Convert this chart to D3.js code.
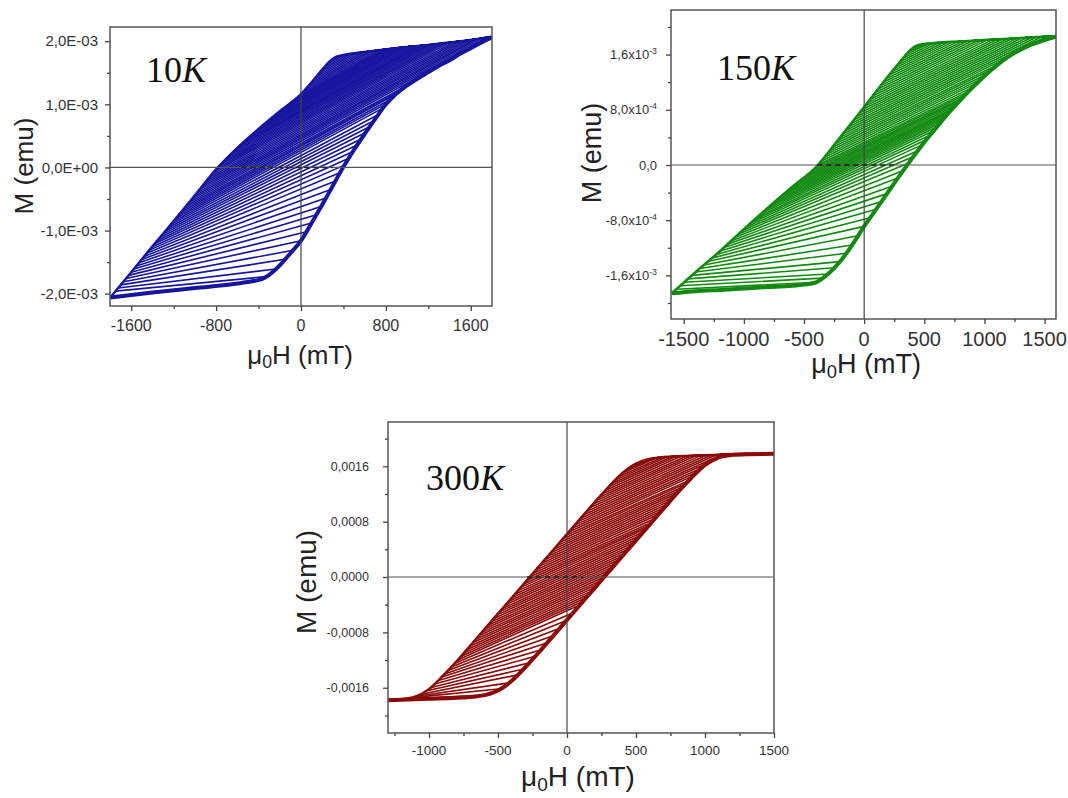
<!DOCTYPE html>
<html><head><meta charset="utf-8">
<script src="https://cdn.jsdelivr.net/npm/d3@7"></script>
<style>body{margin:0;background:#fff}svg{display:block}</style>
</head><body>
<svg id="chart" width="1068" height="798"></svg>
<script>
// ===== DATA (M values in units of 1e-3 emu, H in mT) =====
// 10 K : major branches
const asc10 = [[-1797,-2.06],[-1400,-1.98],[-1000,-1.91],[-600,-1.84],[-450,-1.80],[-370,-1.77],[-300,-1.70],[-200,-1.55],[-100,-1.36],[0,-1.16],[100,-0.88],[200,-0.59],[300,-0.29],[400,0.01],[500,0.28],[600,0.53],[700,0.77],[800,1.00],[900,1.17],[1000,1.30],[1100,1.41],[1200,1.51],[1300,1.61],[1400,1.70],[1500,1.80],[1600,1.89],[1700,1.98],[1797,2.06]];
const desc10 = [[-1797,-2.06],[-1600,-1.66],[-1400,-1.25],[-1200,-0.85],[-1000,-0.44],[-800,-0.03],[-600,0.31],[-400,0.61],[-200,0.89],[0,1.16],[100,1.35],[200,1.55],[270,1.68],[330,1.75],[400,1.78],[600,1.83],[800,1.87],[1000,1.91],[1200,1.94],[1400,1.98],[1600,2.02],[1797,2.07]];
// reversal curves [H start, M start, H join, M join]; "Top" ones merge into the upper branch, "Right" ones into the ascending branch
const forcTop10 = [
[285,1.69,363,1.764],[248,1.64,400,1.78],[222,1.59,439,1.79],[195,1.54,478,1.80],[170,1.49,517,1.809],
[145,1.44,557,1.819],[120,1.39,597,1.829],[95,1.34,635,1.837],[69,1.29,671,1.844],[42,1.24,707,1.851],
[14,1.19,740,1.858],[-15,1.14,772,1.864],[-52,1.09,794,1.869],[-89,1.04,817,1.873],[-126,0.99,839,1.878],
[-163,0.94,861,1.882],[-200,0.89,883,1.887],[-236,0.84,907,1.891],[-272,0.79,930,1.896],[-307,0.74,956,1.901],
[-343,0.69,978,1.906],[-379,0.64,1001,1.91],[-413,0.59,1026,1.914],[-447,0.54,1051,1.918],[-480,0.49,1075,1.921],
[-513,0.44,1102,1.925],[-547,0.39,1126,1.929],[-580,0.34,1151,1.933],[-611,0.29,1180,1.937],[-641,0.24,1208,1.941],
[-671,0.19,1240,1.948],[-700,0.14,1272,1.954],[-730,0.09,1302,1.96],[-759,0.04,1336,1.967],[-787,-0.01,1369,1.974],
[-815,-0.06,1403,1.981],[-839,-0.11,1441,1.988],[-863,-0.16,1480,1.996],[-888,-0.21,1518,2.004],[-912,-0.26,1557,2.011],
[-937,-0.31,1594,2.019],[-961,-0.36,1633,2.028],[-986,-0.41,1670,2.038],[-1010,-0.46,1710,2.048],[-1035,-0.51,1750,2.058],
[-1059,-0.56,1790,2.065]];
const forcRight10 = [
[-1083,-0.61,991,1.29],[-1107,-0.66,942,1.225],[-1132,-0.71,896,1.163],[-1156,-0.76,850,1.085],[-1181,-0.81,810,1.015],
[-1205,-0.86,770,0.94],[-1230,-0.91,730,0.84],[-1255,-0.96,690,0.745],[-1280,-1.01,650,0.65],[-1305,-1.06,610,0.555],
[-1330,-1.11,570,0.455],[-1355,-1.16,530,0.355],[-1380,-1.21,490,0.253],[-1405,-1.26,450,0.145],[-1430,-1.31,410,0.037],
[-1454,-1.36,370,-0.08],[-1478,-1.41,325,-0.215],[-1502,-1.46,280,-0.35],[-1527,-1.51,235,-0.485],[-1551,-1.56,190,-0.62],
[-1576,-1.61,145,-0.75],[-1600,-1.66,100,-0.88],[-1625,-1.71,50,-1.02],[-1649,-1.76,0,-1.16],[-1674,-1.81,-75,-1.313],
[-1698,-1.86,-150,-1.455],[-1723,-1.91,-240,-1.61],[-1748,-1.96,-330,-1.73]];
const dash10 = [-560,300];
const xTicks10 = [-1600,-800,0,800,1600];
const xMinor10 = [-1200,-400,400,1200];
const yTicks10 = [-2,-1,0,1,2];
const yMinor10 = [-1.5,-0.5,0.5,1.5];
const yLabels10 = ["-2,0E-03","-1,0E-03","0,0E+00","1,0E-03","2,0E-03"];

// 150 K
const asc150 = [[-1600,-1.86],[-1400,-1.83],[-1200,-1.81],[-1000,-1.79],[-800,-1.77],[-600,-1.75],[-480,-1.73],[-400,-1.70],[-300,-1.58],[-200,-1.40],[-100,-1.16],[0,-0.89],[100,-0.64],[200,-0.39],[300,-0.14],[400,0.10],[500,0.33],[600,0.54],[700,0.75],[800,0.94],[900,1.12],[1000,1.29],[1100,1.44],[1200,1.57],[1300,1.67],[1400,1.75],[1500,1.81],[1600,1.86]];
const desc150 = [[-1600,-1.86],[-1400,-1.55],[-1200,-1.25],[-1000,-0.93],[-800,-0.62],[-600,-0.32],[-400,-0.03],[-200,0.40],[0,0.84],[200,1.29],[300,1.50],[380,1.66],[450,1.74],[600,1.77],[800,1.79],[1000,1.81],[1200,1.83],[1400,1.85],[1600,1.87]];
const forcTop150 = [
[415,1.70,466,1.742],[383,1.65,502,1.75],[350,1.60,535,1.757],[325,1.55,578,1.766],[300,1.50,620,1.772],
[276,1.45,660,1.776],[252,1.40,699,1.78],[229,1.35,740,1.784],[205,1.30,779,1.788],[183,1.25,821,1.792],
[160,1.20,861,1.796],[138,1.15,903,1.80],[116,1.10,945,1.805],[94,1.05,987,1.809],[71,1.00,1027,1.813],
[49,0.95,1069,1.817],[27,0.90,1111,1.821],[5,0.85,1152,1.825],[-18,0.80,1193,1.829],[-41,0.75,1233,1.833],
[-64,0.70,1275,1.838],[-87,0.65,1315,1.842],[-109,0.60,1356,1.846],[-132,0.55,1397,1.85],[-155,0.50,1437,1.854],
[-178,0.45,1479,1.858],[-200,0.40,1520,1.862]];
const forcRight150 = [
[-224,0.35,1180,1.545],[-247,0.30,1110,1.453],[-270,0.25,1062,1.383],[-293,0.20,1014,1.31],[-317,0.15,975,1.248],
[-340,0.10,940,1.19],[-363,0.05,905,1.128],[-386,0.00,872,1.07],[-417,-0.05,847,1.025],[-448,-0.10,822,0.98],
[-483,-0.15,803,0.945],[-517,-0.20,784,0.91],[-552,-0.25,759,0.862],[-586,-0.30,734,0.815],[-620,-0.35,717,0.783],
[-653,-0.40,700,0.75],[-687,-0.45,683,0.715],[-720,-0.50,666,0.68],[-754,-0.55,649,0.643],[-787,-0.60,631,0.605],
[-820,-0.65,606,0.553],[-852,-0.70,580,0.50],[-884,-0.75,550,0.435],[-916,-0.80,520,0.37],[-949,-0.85,485,0.295],
[-981,-0.90,450,0.21],[-1013,-0.95,410,0.123],[-1044,-1.00,370,0.03],[-1075,-1.05,325,-0.08],[-1106,-1.10,280,-0.19],
[-1138,-1.15,235,-0.303],[-1169,-1.20,190,-0.415],[-1201,-1.25,145,-0.528],[-1233,-1.30,100,-0.64],[-1267,-1.35,50,-0.765],
[-1300,-1.40,0,-0.89],[-1334,-1.45,-50,-1.025],[-1367,-1.50,-100,-1.16],[-1400,-1.55,-150,-1.28],[-1432,-1.60,-200,-1.40],
[-1465,-1.65,-250,-1.49],[-1497,-1.70,-300,-1.58],[-1529,-1.75,-350,-1.64],[-1561,-1.80,-400,-1.70]];
const dash150 = [-390,275];
const xTicks150 = [-1500,-1000,-500,0,500,1000,1500];
const xMinor150 = [-1250,-750,-250,250,750,1250];
const yTicks150 = [-1.6,-0.8,0,0.8,1.6];
const yMinor150 = [-2.0,-1.2,-0.4,0.4,1.2,2.0];
const yLabels150 = [["-1,6x10","-3"],["-8,0x10","-4"],["0,0",""],["8,0x10","-4"],["1,6x10","-3"]];

// 300 K
const asc300 = [[-1297,-1.78],[-1000,-1.76],[-800,-1.745],[-660,-1.725],[-580,-1.70],[-500,-1.64],[-400,-1.50],[-300,-1.30],[-200,-1.08],[-100,-0.85],[0,-0.62],[100,-0.39],[200,-0.16],[300,0.07],[400,0.30],[500,0.53],[600,0.76],[700,0.99],[800,1.22],[900,1.43],[1000,1.62],[1100,1.73],[1200,1.765],[1300,1.775],[1500,1.78]];
const desc300 = [[-1297,-1.775],[-1200,-1.765],[-1100,-1.73],[-1000,-1.62],[-900,-1.43],[-800,-1.22],[-700,-0.99],[-600,-0.76],[-500,-0.53],[-400,-0.30],[-300,-0.07],[-200,0.16],[-100,0.39],[0,0.62],[100,0.85],[200,1.08],[300,1.30],[400,1.50],[500,1.64],[580,1.70],[660,1.725],[800,1.745],[1000,1.76],[1297,1.78],[1500,1.78]];
const forcTop300 = [
[525,1.65,590,1.703],[471,1.60,600,1.705],[435,1.55,618,1.71],[400,1.50,645,1.72],[375,1.45,690,1.73],
[350,1.40,720,1.734],[325,1.35,757,1.739],[300,1.30,793,1.744],[278,1.25,830,1.748],[255,1.20,867,1.75],
[232,1.15,902,1.753],[209,1.10,937,1.755],[187,1.05,973,1.758],[165,1.00,1010,1.76],[144,0.95,1048,1.763],
[122,0.90,1084,1.766],[100,0.85,1120,1.768]];
const forcRight300 = [
[78,0.80,1050,1.675],[57,0.75,979,1.58],[35,0.70,948,1.52],[13,0.65,918,1.465],[-9,0.60,888,1.40],
[-31,0.55,864,1.355],[-52,0.50,839,1.30],[-74,0.45,815,1.25],[-96,0.40,790,1.20],[-118,0.35,768,1.15],
[-139,0.30,746,1.10],[-161,0.25,725,1.05],[-183,0.20,704,1.00],[-205,0.15,682,0.95],[-226,0.10,659,0.90],
[-248,0.05,637,0.845],[-270,0.00,615,0.79],[-292,-0.05,594,0.745],[-313,-0.10,573,0.70],[-335,-0.15,552,0.65],
[-357,-0.20,531,0.60],[-378,-0.25,509,0.55],[-400,-0.30,486,0.50],[-422,-0.35,465,0.45],[-443,-0.40,443,0.40],
[-465,-0.45,421,0.35],[-487,-0.50,399,0.30],[-509,-0.55,377,0.25],[-530,-0.60,355,0.20],[-552,-0.65,334,0.15],
[-574,-0.70,312,0.10],[-596,-0.75,290,0.05],[-617,-0.80,268,0.00],[-639,-0.85,247,-0.05],[-661,-0.90,225,-0.10],
[-683,-0.95,203,-0.15],[-704,-1.00,181,-0.20],[-726,-1.05,160,-0.25],[-748,-1.10,138,-0.30],[-770,-1.15,116,-0.35],
[-791,-1.20,94,-0.40],[-815,-1.25,45,-0.515],[-838,-1.30,-5,-0.63],[-862,-1.35,-52,-0.74],[-886,-1.40,-100,-0.85],
[-912,-1.45,-143,-0.95],[-937,-1.50,-187,-1.05],[-964,-1.55,-230,-1.145],[-990,-1.60,-273,-1.24],[-1030,-1.65,-315,-1.33],
[-1073,-1.70,-357,-1.414],[-1115,-1.73,-420,-1.53],[-1157,-1.75,-480,-1.615],[-1240,-1.77,-600,-1.705]];
const dash300 = [-290,115];
const xTicks300 = [-1000,-500,0,500,1000,1500];
const xMinor300 = [-1250,-750,-250,250,750,1250];
const yTicks300 = [-1.6,-0.8,0,0.8,1.6];
const yMinor300 = [-2.0,-1.2,-0.4,0.4,1.2,2.0];
const yLabels300 = ["-0,0016","-0,0008","0,0000","0,0008","0,0016"];

const tempLabels = ["10","150","300"];

// ===== LAYOUT / STYLE =====
const svg = d3.select("#chart");
const SANS = "'Liberation Sans', Arial, Helvetica, sans-serif";
const panels = [
  {id:"p10", color:"#15159e", asc:asc10, desc:desc10, top:forcTop10, right:forcRight10, dash:dash10,
   xDomain:[-1800,1800], yDomain:[-2.195,2.225], box:[110,27,492,306],
   xTicks:xTicks10, xMinor:xMinor10, yTicks:yTicks10, yMinor:yMinor10,
   yLab:yLabels10, temp:tempLabels[0],
   xTickFont:16, yTickFont:15, xTickY:331, yLabX:98,
   titleFont:26, xTitle:[300,364], yTitle:[24,166], tempPos:[146,82]},
  {id:"p150", color:"#128a12", asc:asc150, desc:desc150, top:forcTop150, right:forcRight150, dash:dash150,
   xDomain:[-1606,1595], yDomain:[-2.232,2.246], box:[671,10,1056,319],
   xTicks:xTicks150, xMinor:xMinor150, yTicks:yTicks150, yMinor:yMinor150,
   yLab:yLabels150, temp:tempLabels[1],
   xTickFont:20, yTickFont:13, xTickY:346, yLabX:657,
   titleFont:27, xTitle:[866,373], yTitle:[592,153], tempPos:[717,80]},
  {id:"p300", color:"#8a0909", asc:asc300, desc:desc300, top:forcTop300, right:forcRight300, dash:dash300,
   xDomain:[-1297,1500], yDomain:[-2.254,2.24], box:[388,422,774,733],
   xTicks:xTicks300, xMinor:xMinor300, yTicks:yTicks300, yMinor:yMinor300,
   yLab:yLabels300, temp:tempLabels[2],
   xTickFont:13.5, yTickFont:12.5, xTickY:755, yLabX:369,
   titleFont:28, xTitle:[578,786], yTitle:[306,582], tempPos:[426,490]}
];

panels.forEach(p => {
  const [x0,y0,x1,y1] = p.box;
  const x = d3.scaleLinear().domain(p.xDomain).range([x0,x1]);
  const y = d3.scaleLinear().domain(p.yDomain).range([y1,y0]);
  const g = svg.append("g");
  g.append("clipPath").attr("id","clip-"+p.id).append("rect")
    .attr("x",x0).attr("y",y0).attr("width",x1-x0).attr("height",y1-y0);
  const plot = g.append("g").attr("clip-path","url(#clip-"+p.id+")");
  const smooth = d3.line().x(d=>x(d[0])).y(d=>y(d[1])).curve(d3.curveMonotoneX);
  const straight = d3.line().x(d=>x(d[0])).y(d=>y(d[1])).curve(d3.curveLinear);

  const drawCurve = (f, branch) => {
    const pts = [[f[0],f[1]],[f[2],f[3]]].concat(branch.filter(a => a[0] > f[2] + 20));
    plot.append("path").attr("d", straight(pts)).attr("fill","none")
      .attr("stroke", p.color).attr("stroke-width",1.6).attr("stroke-linejoin","round");
  };
  p.top.forEach(f => drawCurve(f, p.desc));
  p.right.forEach(f => drawCurve(f, p.asc));

  // major branches
  plot.append("path").attr("d", smooth(p.asc)).attr("fill","none")
    .attr("stroke", p.color).attr("stroke-width",4);
  plot.append("path").attr("d", smooth(p.desc)).attr("fill","none")
    .attr("stroke", p.color).attr("stroke-width",2.5);

  // zero lines
  g.append("line").attr("x1",x0).attr("x2",x1).attr("y1",y(0)).attr("y2",y(0))
    .attr("stroke","#555").attr("stroke-width",1.2);
  g.append("line").attr("x1",x(0)).attr("x2",x(0)).attr("y1",y0).attr("y2",y1)
    .attr("stroke","#444").attr("stroke-width",1.2);
  g.append("line").attr("x1",x(p.dash[0])).attr("x2",x(p.dash[1])).attr("y1",y(0)).attr("y2",y(0))
    .attr("stroke","#222").attr("stroke-width",1.6).attr("stroke-dasharray","5,4");

  // frame
  g.append("rect").attr("x",x0).attr("y",y0).attr("width",x1-x0).attr("height",y1-y0)
    .attr("fill","none").attr("stroke","#555").attr("stroke-width",1.5);

  // axes (ticks)
  const xa = g.append("g").attr("transform",`translate(0,${y1})`)
    .call(d3.axisBottom(x).tickValues(p.xTicks).tickSize(5).tickSizeOuter(0).tickFormat(""));
  const xm = g.append("g").attr("transform",`translate(0,${y1})`)
    .call(d3.axisBottom(x).tickValues(p.xMinor).tickSize(3).tickSizeOuter(0).tickFormat(""));
  const ya = g.append("g").attr("transform",`translate(${x0},0)`)
    .call(d3.axisLeft(y).tickValues(p.yTicks).tickSize(5).tickSizeOuter(0).tickFormat(""));
  const ym = g.append("g").attr("transform",`translate(${x0},0)`)
    .call(d3.axisLeft(y).tickValues(p.yMinor).tickSize(3).tickSizeOuter(0).tickFormat(""));
  [xa,xm,ya,ym].forEach(a => { a.select(".domain").remove();
    a.selectAll("line").attr("stroke","#444").attr("stroke-width",1.3); });

  // x tick labels
  p.xTicks.forEach(v => {
    g.append("text").attr("x", x(v)).attr("y", p.xTickY).attr("text-anchor","middle")
      .attr("font-family",SANS).attr("font-size",p.xTickFont).attr("fill","#333").text(v);
  });
  // y tick labels
  p.yTicks.forEach((v,i) => {
    const t = g.append("text").attr("x", p.yLabX).attr("y", y(v)).attr("dy","0.35em")
      .attr("text-anchor","end").attr("font-family",SANS).attr("font-size",p.yTickFont).attr("fill","#333");
    const lab = p.yLab[i];
    if (Array.isArray(lab)) {
      t.append("tspan").text(lab[0]);
      if (lab[1]) t.append("tspan").attr("font-size",p.yTickFont*0.68).attr("dy","-0.55em").text(lab[1]);
    } else t.text(lab);
  });

  // axis titles
  const xt = g.append("text").attr("x",p.xTitle[0]).attr("y",p.xTitle[1]).attr("text-anchor","middle")
    .attr("font-family",SANS).attr("font-size",p.titleFont).attr("fill","#222");
  xt.append("tspan").text("\u03BC");
  xt.append("tspan").attr("font-size",p.titleFont*0.68).attr("dy","0.25em").text("0");
  xt.append("tspan").attr("dy","-0.17em").text("H (mT)");
  g.append("text").attr("transform",`translate(${p.yTitle[0]},${p.yTitle[1]}) rotate(-90)`)
    .attr("text-anchor","middle").attr("dy","0.35em").attr("font-family",SANS)
    .attr("font-size",p.titleFont).attr("fill","#222").text("M (emu)");

  // temperature label
  const tl = g.append("text").attr("x",p.tempPos[0]).attr("y",p.tempPos[1])
    .attr("font-family","'Liberation Serif','Times New Roman',serif").attr("font-size",36).attr("fill","#111");
  tl.append("tspan").text(p.temp);
  tl.append("tspan").attr("font-style","italic").text("K");
});
</script>
</body></html>
